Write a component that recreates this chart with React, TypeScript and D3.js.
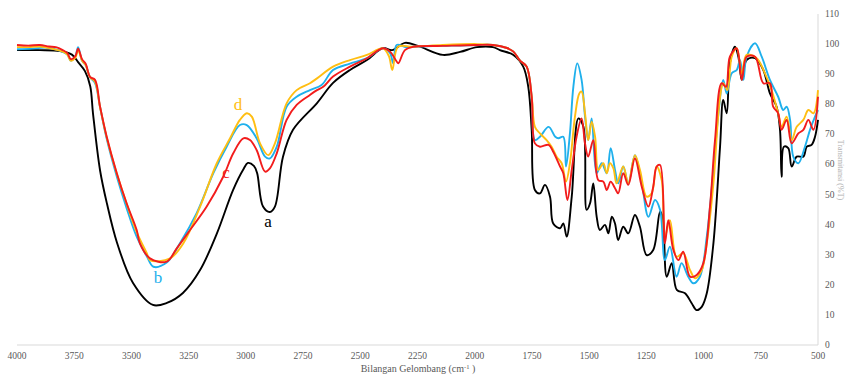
import React, { useRef, useEffect } from "react";
import * as d3 from "d3";

type Pt = [number, number];

// wavenumber (cm-1), transmittance (%)
const seriesA: Pt[] = [
  [4000, 98], [3900, 98], [3812, 97.7], [3760, 96.5], [3733, 94], [3703, 91], [3680, 86], [3668, 77],
  [3637, 58], [3607, 47], [3563, 34], [3493, 20.6], [3406, 13.3], [3345, 14], [3275, 17.3], [3200, 24.9],
  [3126, 37.2], [3056, 51.5], [3010, 58.5], [2991, 60.5], [2965, 59.5], [2951, 57.2], [2925, 46], [2895, 44.2],
  [2873, 46], [2838, 62.5], [2794, 71.5], [2689, 80.4], [2619, 87.1], [2545, 91.4], [2471, 94.7], [2401, 98.7],
  [2361, 98], [2305, 100.4], [2248, 99.4], [2139, 96.4], [2064, 97.4], [1990, 99], [1920, 99], [1890, 98],
  [1831, 96.4], [1788, 92.5], [1766, 85.8], [1751, 71.5], [1737, 51.5], [1715, 50.4], [1693, 53.2], [1671, 49.3],
  [1657, 40.4], [1627, 38.8], [1613, 40.4], [1598, 36], [1576, 49.3], [1547, 75.3], [1525, 72.5], [1511, 44.9],
  [1496, 47.1], [1482, 53.7], [1467, 42.6], [1453, 38.2], [1431, 39.9], [1416, 37.1], [1401, 42.6], [1387, 40.4],
  [1373, 34.9], [1351, 39.3], [1329, 37.1], [1300, 43.2], [1278, 39.3], [1249, 29.9], [1220, 31.6], [1190, 44.3],
  [1179, 42.6], [1161, 22.7], [1139, 27.2], [1117, 18.3], [1081, 17.2], [1052, 13.9], [1030, 11.6], [1008, 12.7],
  [986, 17.2], [957, 33.8], [928, 65.9], [914, 81.4], [899, 77], [885, 93.6], [863, 99.1], [848, 95.8],
  [833, 88.1], [812, 94.7], [775, 95.3], [739, 91.4], [710, 83.6], [681, 79.2], [666, 71.5], [659, 55.9],
  [649, 65.9], [630, 65.4], [615, 59.3], [593, 62.6], [564, 62.6], [549, 65.9], [528, 66.5], [513, 69.2], [500, 74.8],
];

const seriesB: Pt[] = [
  [4000, 98.3], [3930, 98.5], [3870, 98.8], [3820, 98], [3780, 96.5], [3765, 94.5], [3745, 96], [3733, 99],
  [3716, 94.5], [3700, 93], [3681, 89], [3659, 87], [3637, 79], [3608, 68.5], [3564, 56], [3521, 45.5],
  [3477, 36], [3433, 29.5], [3404, 26], [3346, 27.4], [3288, 33.8], [3215, 43.8], [3142, 57.1], [3084, 65.9],
  [3026, 73.1], [2996, 73.1], [2953, 68.7], [2916, 62.6], [2895, 62], [2865, 65.9], [2822, 79.2], [2778, 82.5],
  [2720, 84.7], [2669, 86.4], [2619, 91.4], [2545, 93.5], [2471, 95.3], [2401, 98.6], [2370, 97], [2356, 93.6],
  [2341, 99.7], [2300, 99], [2270, 99.1], [2139, 99.4], [1990, 99.7], [1920, 99.7], [1859, 98.7], [1831, 97.5],
  [1802, 94.5], [1773, 92.5], [1751, 82.5], [1737, 68.1], [1715, 69.2], [1677, 72.5], [1648, 69.2], [1634, 68.7],
  [1613, 69.2], [1601, 59.3], [1584, 70.3], [1569, 85.8], [1552, 93.6], [1533, 88.1], [1518, 75.9], [1504, 68.1],
  [1489, 75.3], [1467, 57.1], [1445, 60.4], [1423, 57.1], [1406, 65.4], [1387, 58.2], [1373, 53.7], [1351, 59.3],
  [1329, 53.7], [1300, 63.1], [1270, 53.7], [1241, 42.6], [1212, 48.2], [1190, 44.9], [1169, 28.2], [1147, 32.7],
  [1118, 22.7], [1096, 27.2], [1067, 22.7], [1045, 20.5], [1016, 22.7], [986, 36], [957, 58.2], [935, 77],
  [914, 88.1], [899, 83.6], [877, 90.3], [855, 91.4], [841, 94.7], [826, 88.1], [812, 95.8], [775, 100.3],
  [746, 95.8], [710, 88.1], [674, 82.5], [652, 78.1], [637, 79.2], [622, 74.8], [608, 62.6], [586, 60.4],
  [557, 65.9], [535, 71.5], [513, 75.9], [500, 78.1],
];

const seriesC: Pt[] = [
  [4000, 99.7], [3950, 99.5], [3900, 99.7], [3860, 99.2], [3830, 99], [3800, 98], [3780, 97], [3765, 95],
  [3745, 96], [3733, 98.5], [3716, 95], [3700, 93.5], [3681, 89.1], [3659, 88.1], [3637, 79.2], [3608, 69.2],
  [3564, 57.1], [3521, 47.1], [3477, 38.2], [3463, 33.8], [3419, 28.8], [3346, 27.7], [3302, 32.1], [3244, 38.2],
  [3171, 46], [3099, 55.9], [3055, 63.7], [3011, 68.7], [2982, 68.1], [2953, 64.8], [2916, 57.6], [2895, 58.7],
  [2865, 63.7], [2822, 74.8], [2778, 79.8], [2720, 83.1], [2689, 84.7], [2662, 85.8], [2619, 89.2], [2545, 92.5],
  [2471, 95.3], [2401, 98.6], [2370, 97.5], [2341, 94.2], [2334, 93.6], [2305, 98], [2270, 99.1], [2139, 99.4],
  [1990, 99.7], [1920, 99.7], [1859, 98.7], [1831, 97.5], [1802, 94.5], [1773, 92.5], [1751, 82.5], [1737, 67],
  [1715, 65.9], [1677, 66.5], [1657, 64.2], [1627, 59.3], [1613, 57.1], [1595, 48.2], [1576, 58.2], [1555, 69.2],
  [1533, 75.3], [1518, 67], [1504, 62.6], [1482, 68.1], [1460, 54.8], [1438, 54.3], [1423, 51.5], [1406, 54.3],
  [1387, 52.1], [1373, 50.4], [1351, 57.1], [1329, 53.2], [1300, 62], [1270, 52.6], [1241, 46], [1220, 52.6],
  [1205, 59.3], [1190, 59.8], [1169, 33.8], [1154, 41.5], [1132, 31.6], [1110, 28.2], [1089, 31], [1059, 22.7],
  [1030, 23.3], [1001, 27.2], [972, 46], [950, 68.1], [921, 87], [902, 85.8], [885, 95.8], [855, 98.6],
  [833, 88.1], [812, 95.8], [775, 95.8], [739, 87], [710, 87], [696, 79.2], [674, 77], [659, 71.5],
  [637, 74.8], [615, 67], [586, 70.3], [564, 71.5], [542, 74.8], [520, 71.5], [500, 82.5],
];

const seriesD: Pt[] = [
  [4000, 99], [3950, 99], [3900, 99.2], [3850, 98.5], [3800, 97.5], [3780, 96.5], [3765, 94.5], [3745, 95.5],
  [3733, 98], [3716, 94.5], [3700, 93], [3681, 89], [3659, 87.5], [3637, 79], [3608, 69], [3564, 57],
  [3521, 47], [3477, 37.5], [3433, 30.5], [3419, 28.2], [3331, 28.8], [3273, 33.8], [3200, 46], [3127, 60.4],
  [3069, 68.7], [3026, 74.8], [2996, 77], [2974, 75.9], [2938, 67], [2902, 63.1], [2873, 67], [2822, 80.3],
  [2778, 84.7], [2720, 87], [2689, 88.6], [2619, 92.5], [2545, 94.7], [2471, 96.4], [2401, 98.6], [2375, 96],
  [2360, 91.4], [2335, 99.1], [2270, 99.1], [2139, 99.7], [1990, 100], [1920, 99.7], [1859, 98.7], [1831, 97.5],
  [1802, 94.5], [1773, 92.5], [1751, 82.5], [1737, 72.5], [1715, 70.3], [1686, 68.1], [1664, 65.9], [1642, 62.6],
  [1620, 60.4], [1601, 54.3], [1584, 60.4], [1562, 75.9], [1543, 83.6], [1533, 84.2], [1518, 77], [1504, 68.1],
  [1489, 74.2], [1474, 69.2], [1460, 58.2], [1438, 60.4], [1423, 57.1], [1409, 60.4], [1394, 58.7], [1380, 53.7],
  [1351, 59.3], [1329, 53.7], [1300, 63.1], [1278, 58.2], [1249, 49.3], [1227, 50.4], [1205, 59.3], [1183, 54.8],
  [1169, 36], [1147, 41.5], [1118, 29.3], [1089, 30.5], [1059, 24.9], [1037, 22.2], [1008, 24.9], [986, 33.8],
  [957, 53.7], [928, 82.5], [914, 87], [896, 84.7], [877, 95.8], [855, 98.6], [833, 90.3], [812, 96.4],
  [768, 95.3], [732, 90.3], [703, 84.7], [674, 77], [659, 72.5], [637, 75.9], [615, 68.1], [593, 72.5],
  [564, 74.8], [542, 78.1], [520, 77], [500, 84.7],
];

const xTicks = [4000, 3750, 3500, 3250, 3000, 2750, 2500, 2250, 2000, 1750, 1500, 1250, 1000, 750, 500];
const yTicks = [0, 10, 20, 30, 40, 50, 60, 70, 80, 90, 100, 110];

// curve labels: letter, wavenumber, transmittance (baseline)
const labels: [string, number, number][] = [
  ["a", 2903, 39.2],
  ["b", 3384, 20.6],
  ["c", 3087, 55.5],
  ["d", 3034, 78.1],
];

const lines = [
  { data: seriesA, color: "#000000", label: "a" },
  { data: seriesB, color: "#1fb0ec", label: "b" },
  { data: seriesD, color: "#ffbe12", label: "d" },
  { data: seriesC, color: "#f21c1c", label: "c" },
];

const font = "Liberation Serif, Times New Roman, serif";

const Chart = () => {
  const svgRef = useRef<SVGSVGElement>(null);

  useEffect(() => {
    const svg = d3.select(svgRef.current);
    svg.selectAll("*").remove();

    const width = 846;
    const height = 376;

    const x = d3.scaleLinear().domain([4000, 500]).range([17, 818]);
    const y = d3.scaleLinear().domain([0, 110]).range([345, 14]);

    svg.attr("width", width).attr("height", height).style("font-family", font);

    // axis lines
    svg.append("line")
      .attr("x1", 17).attr("x2", 818).attr("y1", y(0)).attr("y2", y(0))
      .attr("stroke", "#d9d9d9").attr("stroke-width", 1);
    svg.append("line")
      .attr("x1", 818).attr("x2", 818).attr("y1", y(110)).attr("y2", y(0))
      .attr("stroke", "#d9d9d9").attr("stroke-width", 1);

    // x tick labels
    svg.append("g")
      .selectAll("text")
      .data(xTicks)
      .join("text")
      .attr("x", (d) => x(d))
      .attr("y", 359)
      .attr("text-anchor", "middle")
      .style("font-family", font)
      .attr("font-size", 9.5)
      .attr("fill", "#595959")
      .text((d) => d);

    // y tick labels (right)
    svg.append("g")
      .selectAll("text")
      .data(yTicks)
      .join("text")
      .attr("x", 825)
      .attr("y", (d) => y(d) + 3)
      .style("font-family", font)
      .attr("font-size", 9.5)
      .attr("fill", "#595959")
      .text((d) => d);

    // axis titles
    const xt = svg.append("text")
      .attr("x", 418)
      .attr("y", 372)
      .attr("text-anchor", "middle")
      .style("font-family", font)
      .attr("font-size", 10)
      .attr("fill", "#595959");
    xt.append("tspan").text("Bilangan Gelombang (cm");
    xt.append("tspan").attr("dy", -3).attr("font-size", 6.5).text("-1");
    xt.append("tspan").attr("dy", 3).text(" )");

    svg.append("text")
      .attr("transform", "translate(838,170) rotate(90)")
      .attr("text-anchor", "middle")
      .style("font-family", font)
      .attr("font-size", 8)
      .attr("fill", "#b0b0b0")
      .text("Transmitansi (%T)");

    const line = d3
      .line<Pt>()
      .x((d) => x(d[0]))
      .y((d) => y(d[1]))
      .curve(d3.curveCatmullRom.alpha(0.5));

    lines.forEach((s) => {
      svg.append("path")
        .datum(s.data)
        .attr("fill", "none")
        .attr("stroke", s.color)
        .attr("stroke-width", 1.9)
        .attr("stroke-linejoin", "round")
        .attr("d", line);
    });

    labels.forEach(([t, wn, v]) => {
      const s = lines.find((l) => l.label === t)!;
      svg.append("text")
        .attr("x", x(wn))
        .attr("y", y(v))
        .attr("text-anchor", "middle")
        .style("font-family", font)
        .attr("font-size", 17)
        .attr("fill", s.color)
        .text(t);
    });
  }, []);

  return <svg ref={svgRef} style={{ position: "absolute", left: 0, top: 0, display: "block" }}></svg>;
};

export default function App() {
  return <Chart />;
}
